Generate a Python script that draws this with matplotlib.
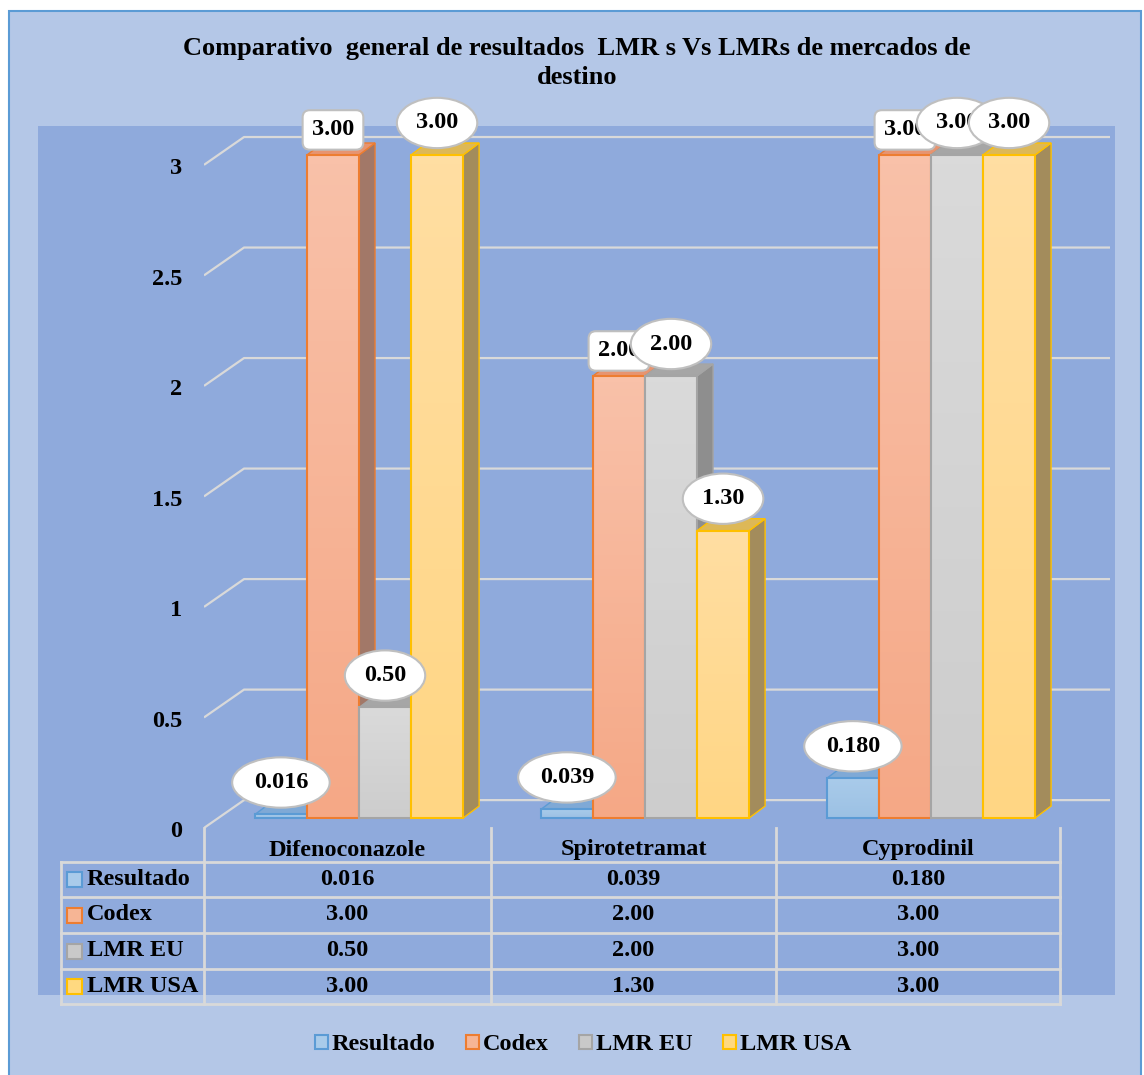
import numpy as np
import matplotlib
matplotlib.use("Agg")
import matplotlib.pyplot as plt
from matplotlib.patches import Rectangle, Polygon, Patch
from matplotlib.lines import Line2D
from matplotlib.colors import LinearSegmentedColormap

plt.rcParams['font.family'] = ['Liberation Serif', 'DejaVu Serif']
plt.rcParams['font.weight'] = 'bold'

# ---- data ----
title = "Comparativo  general de resultados  LMR s Vs LMRs de mercados de\ndestino"
categories = ["Difenoconazole", "Spirotetramat", "Cyprodinil"]
series_names = ["Resultado", "Codex", "LMR EU", "LMR USA"]
resultado = [0.016, 0.039, 0.180]
codex = [3.00, 2.00, 3.00]
lmr_eu = [0.50, 2.00, 3.00]
lmr_usa = [3.00, 1.30, 3.00]
series_values = [resultado, codex, lmr_eu, lmr_usa]
value_formats = ["{:.3f}", "{:.2f}", "{:.2f}", "{:.2f}"]
y_ticks = [0, 0.5, 1, 1.5, 2, 2.5, 3]
y_tick_labels = ["0", "0.5", "1", "1.5", "2", "2.5", "3"]

# ---- style ----
front_top = ["#A9CBEA", "#F9C1A9", "#DADADA", "#FFDEA2"]
front_bot = ["#9CC1E4", "#F5A886", "#CDCDCD", "#FFD684"]
side_col = ["#6F92BA", "#A27868", "#8E8E8E", "#A38C5C"]
top_col = ["#7FA9D6", "#E79470", "#A6A6A6", "#DDB857"]
edge_col = ["#5B9BD5", "#ED7D31", "#A5A5A5", "#FFC000"]
key_face = ["#A9CBEA", "#F6B595", "#C9C9C9", "#FFD980"]
light_bg = "#B4C7E7"
dark_bg = "#8FAADC"
grid_col = "#D9D9D9"
fs = 17.5

W, H = 1144, 1075
fig = plt.figure(figsize=(W / 100, H / 100), dpi=100)
fig.patch.set_facecolor("white")


def fx(x):
    return x / W


def fy(y):
    return 1 - y / H


# chart background and plot zone
fig.add_artist(Rectangle((fx(9), fy(1090)), fx(1141) - fx(9), fy(11) - fy(1090),
                         transform=fig.transFigure, facecolor=light_bg,
                         edgecolor="#5B9BD5", lw=1.5, zorder=-2))
fig.add_artist(Rectangle((fx(38), fy(995)), fx(1115) - fx(38), fy(126) - fy(995),
                         transform=fig.transFigure, facecolor=dark_bg,
                         edgecolor="none", zorder=-1))

fig.text(fx(577), fy(63), title, ha="center", va="center", fontsize=19,
         fontweight="bold", linespacing=1.3)

# ---- plot axes ----
ax = fig.add_axes([fx(204), fy(840), 906 / W, 720 / H])
ax.set_facecolor("none")
ax.axis("off")
ax.set_zorder(1)

front_shift = 0.045   # front edge of the floor below the value
back_shift = 0.081    # back wall above the value
diag_dx = 0.14
x_max = 3.168

for v, lab in zip(y_ticks, y_tick_labels):
    ax.plot([0, diag_dx, x_max], [v - front_shift, v + back_shift, v + back_shift],
            color=grid_col, lw=1.6, zorder=1, solid_capstyle="butt")
    ax.text(-0.075, v - front_shift - 0.018, lab, ha="right", va="center", fontsize=fs,
            fontweight="bold")

bar_w = 0.182
group_shift = 0.042
dx, dy = 0.056, 0.054

z = 3.0
for i in range(len(categories)):
    for s, vals in enumerate(series_values):
        v = vals[i]
        x0 = i + 0.5 + group_shift + (s - 2) * bar_w
        x1 = x0 + bar_w
        # side and top faces
        ax.add_patch(Polygon([(x1, 0), (x1 + dx, dy), (x1 + dx, v + dy), (x1, v)],
                             closed=True, facecolor=side_col[s], edgecolor=edge_col[s],
                             lw=1.0, zorder=z))
        ax.add_patch(Polygon([(x0, v), (x0 + dx, v + dy), (x1 + dx, v + dy), (x1, v)],
                             closed=True, facecolor=top_col[s], edgecolor=edge_col[s],
                             lw=1.0, zorder=z))
        # front face with vertical gradient
        cmap = LinearSegmentedColormap.from_list("g", [front_bot[s], front_top[s]])
        grad = np.linspace(0, 1, 64).reshape(-1, 1)
        ax.imshow(grad, extent=(x0, x1, 0, v), origin="lower", aspect="auto",
                  cmap=cmap, zorder=z + 0.01)
        ax.bar(x0, v, width=bar_w, align="edge", facecolor="none",
               edgecolor=edge_col[s], lw=1.5, zorder=z + 0.02)
        z += 0.1

# value callouts
for i in range(len(categories)):
    for s, vals in enumerate(series_values):
        v = vals[i]
        xc = i + 0.5 + group_shift + (s - 2) * bar_w + bar_w / 2
        if s == 1:
            box = dict(boxstyle="round,pad=0.38,rounding_size=0.3", facecolor="white",
                       edgecolor="#BFBFBF", lw=1.5)
            off = 18
        else:
            box = dict(boxstyle="ellipse,pad=0.3", facecolor="white",
                       edgecolor="#BFBFBF", lw=1.5)
            off = 23
        ax.annotate(value_formats[s].format(v), xy=(xc, v), xytext=(0, off),
                    textcoords="offset points", ha="center", va="center",
                    fontsize=fs, fontweight="bold", bbox=box, zorder=20 + s)

ax.set_xlim(0, x_max)
ax.set_ylim(-0.0995, 3.158)

# ---- data table ----
col_edges = [204, 491, 776, 1060]
row_edges = [862, 897, 933, 969, 1004]
tbl_left = 61
lkw = dict(color=grid_col, lw=2, transform=fig.transFigure, zorder=2)
for ry in row_edges:
    fig.add_artist(Line2D([fx(tbl_left), fx(col_edges[-1])], [fy(ry), fy(ry)], **lkw))
fig.add_artist(Line2D([fx(tbl_left), fx(tbl_left)], [fy(row_edges[0]), fy(row_edges[-1])], **lkw))
for cx in col_edges:
    fig.add_artist(Line2D([fx(cx), fx(cx)], [fy(828), fy(row_edges[-1])], **lkw))

for c, name in enumerate(categories):
    xc = (col_edges[c] + col_edges[c + 1]) / 2
    fig.text(fx(xc), fy(850), name, ha="center", va="center", fontsize=fs,
             fontweight="bold", zorder=3)
for s, vals in enumerate(series_values):
    yc = (row_edges[s] + row_edges[s + 1]) / 2
    fig.add_artist(Rectangle((fx(67), fy(yc + 7.5)), fx(15), 15 / H,
                             transform=fig.transFigure, facecolor=key_face[s],
                             edgecolor=edge_col[s], lw=1.5, zorder=3))
    fig.text(fx(87), fy(yc), series_names[s], ha="left", va="center", fontsize=fs,
             fontweight="bold", zorder=3)
    for c, v in enumerate(vals):
        xc = (col_edges[c] + col_edges[c + 1]) / 2
        fig.text(fx(xc), fy(yc), value_formats[s].format(v), ha="center", va="center",
                 fontsize=fs, fontweight="bold", zorder=3)

# ---- legend ----
handles = [Patch(facecolor=key_face[s], edgecolor=edge_col[s], lw=1.5)
           for s in range(len(series_names))]
fig.legend(handles, series_names, loc="center", bbox_to_anchor=(fx(583), fy(1045)),
           ncol=4, frameon=False, handlelength=0.55, handleheight=0.55,
           handletextpad=0.15, columnspacing=1.25,
           prop=dict(family="Liberation Serif", weight="bold", size=fs))

fig.savefig("out.png", dpi=100)
